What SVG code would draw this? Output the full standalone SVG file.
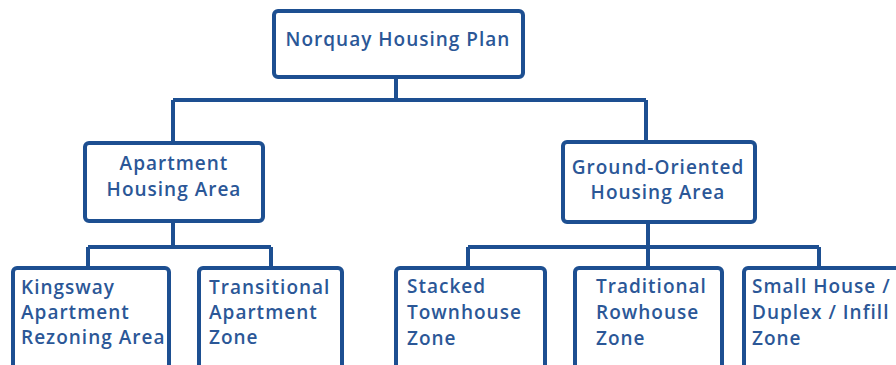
<svg xmlns="http://www.w3.org/2000/svg" width="896" height="365" viewBox="0 0 896 365">
<style>
.box{fill:#fff;stroke:#1d4f91;stroke-width:4}
.ln{fill:none;stroke:#1d4f91;stroke-width:4}
text{font-family:"Open Sans","Liberation Sans",sans-serif;font-size:19px;font-weight:600;fill:#2b5797;letter-spacing:1px}
.c{text-anchor:middle}
</style>
<rect width="896" height="365" fill="#fff"/>
<g id="connectors">
<path class="ln" d="M396 77V100M173 100H646M173 100V143M646 100V142"/>
<path class="ln" d="M173 221V247M88 247H271M88 247V268M271 247V268"/>
<path class="ln" d="M648 222V268M468 247H819M468 247V268M819 247V268"/>
</g>
<g id="n-root"><rect class="box" x="274" y="11" width="249" height="66" rx="4"/><text class="c" x="398" y="46">Norquay Housing Plan</text></g>
<g id="n-apt"><rect class="box" x="85" y="143" width="178" height="78" rx="4"/><text class="c" x="174" y="170">Apartment</text><text class="c" x="174" y="196">Housing Area</text></g>
<g id="n-ground"><rect class="box" x="563" y="142" width="192" height="80" rx="4"/><text class="c" x="658" y="174">Ground-Oriented</text><text class="c" x="658" y="199">Housing Area</text></g>
<g id="n-kingsway"><rect class="box" x="13" y="268" width="156" height="110" rx="4"/><text x="21" y="294">Kingsway</text><text x="21" y="319">Apartment</text><text x="21" y="344">Rezoning Area</text></g>
<g id="n-trans"><rect class="box" x="199" y="268" width="143" height="110" rx="4"/><text x="209" y="294">Transitional</text><text x="209" y="319">Apartment</text><text x="209" y="344">Zone</text></g>
<g id="n-stacked"><rect class="box" x="396" y="268" width="149" height="110" rx="4"/><text x="407" y="293">Stacked</text><text x="407" y="319">Townhouse</text><text x="407" y="345">Zone</text></g>
<g id="n-trad"><rect class="box" x="575" y="268" width="147" height="110" rx="4"/><text x="596" y="293">Traditional</text><text x="596" y="319">Rowhouse</text><text x="596" y="345">Zone</text></g>
<g id="n-small"><rect class="box" x="744" y="268" width="160" height="110" rx="4"/><text x="752" y="293">Small House /</text><text x="752" y="319">Duplex / Infill</text><text x="752" y="345">Zone</text></g>
</svg>
